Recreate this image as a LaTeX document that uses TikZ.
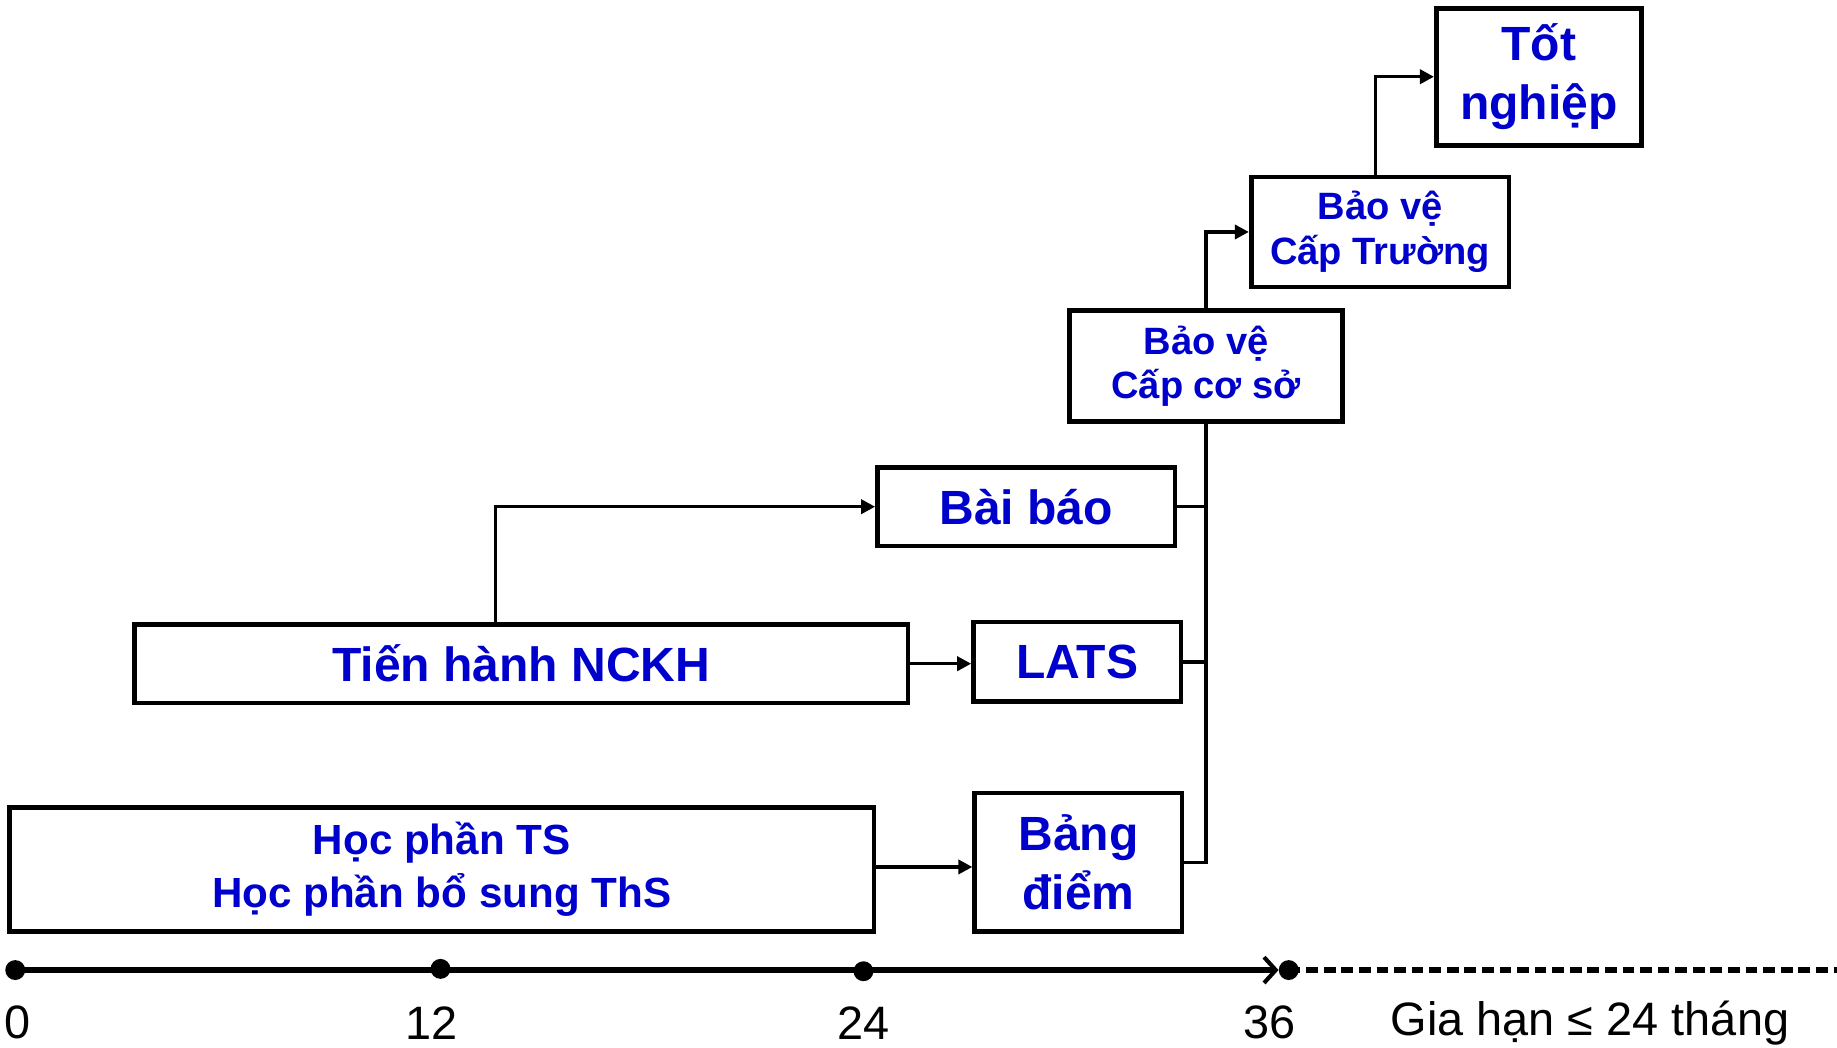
\documentclass[tikz,border=0pt]{standalone}
\usepackage{fontspec}
\setmainfont{Liberation Sans}
\usetikzlibrary{arrows.meta}
\definecolor{txtblue}{RGB}{0,0,204}
\tikzset{
  box/.style={draw=black, line width=4pt, fill=white, text=txtblue, align=center, inner sep=0pt, font=\bfseries\fontsize{41}{50}\selectfont},
  smallbox/.style={box, font=\bfseries\fontsize{32.5}{38}\selectfont},
  midbox/.style={box, font=\bfseries\fontsize{36}{45}\selectfont},
  conn/.style={draw=black, line width=3pt},
  arr/.style={conn, -{Triangle[length=12pt,width=12pt]}},
  dot/.style={circle, fill=black, inner sep=0pt, minimum size=17pt},
  lbl/.style={text=black, inner sep=0pt, font=\fontsize{40}{48}\selectfont}
}
\begin{document}
\begin{tikzpicture}[x=1pt,y=-1pt]
\useasboundingbox (0,0) rectangle (1568,894);
% boxes
\node[box, minimum width=175pt, minimum height=117pt] (tot) at (1313.5,65.5) {Tốt\\nghiệp};
\node[smallbox, minimum width=220pt, minimum height=94pt] (truong) at (1178,198) {Bảo vệ\\Cấp Trường};
\node[smallbox, minimum width=233pt, minimum height=95pt] (coso) at (1029.5,312.5) {Bảo vệ\\Cấp cơ sở};
\node[box, minimum width=254pt, minimum height=67pt] (baibao) at (876,432.5) {Bài báo};
\node[box, minimum width=177pt, minimum height=68pt] (lats) at (919.5,565) {LATS};
\node[box, minimum width=660pt, minimum height=67pt] (nckh) at (445,566.5) {Tiến hành NCKH};
\node[midbox, minimum width=738pt, minimum height=106pt] (hocphan) at (377,742) {Học phần TS\\Học phần bổ sung ThS};
\node[box, minimum width=177pt, minimum height=118pt] (bangdiem) at (920.5,736) {Bảng\\điểm};
% connectors
\draw[arr] ([xshift=-22pt]nckh.north) |- (baibao.west);
\draw[arr] (nckh.east) -- (nckh.east -| lats.west);
\draw[arr] ([yshift=2pt]hocphan.east) -- ([yshift=2pt]hocphan.east -| bangdiem.west);
\draw[conn] (coso.south) -- (coso.south |- bangdiem.east) -- (bangdiem.east);
\draw[conn] (baibao.east) -- (baibao.east -| coso.south);
\draw[conn] (lats.east) -- (lats.east -| coso.south);
\draw[arr] (coso.north) |- (truong.west);
\draw[arr] ([xshift=-4pt]truong.north) |- (tot.west);
% timeline
\node[dot] (t0) at (13,828) {};
\node[dot] (t12) at (376,827) {};
\node[dot] (t24) at (737,829) {};
\node[dot] (t36) at (1100,828) {};
\coordinate (tend) at (1568,828);
\draw[line width=5pt, -{Straight Barb[length=10pt,width=22pt,line width=3.5pt]}] (t0.center) -- (t36.west);
\draw[line width=4.5pt, dash pattern=on 10pt off 5pt] (t36.center) -- (tend);
\node[lbl] at (15,873) {0};
\node[lbl] at (368,873) {12};
\node[lbl] at (737,873) {24};
\node[lbl] at (1084,873) {36};
\node[lbl, anchor=west] at (1187,873) {Gia hạn ≤ 24 tháng};
\end{tikzpicture}
\end{document}
